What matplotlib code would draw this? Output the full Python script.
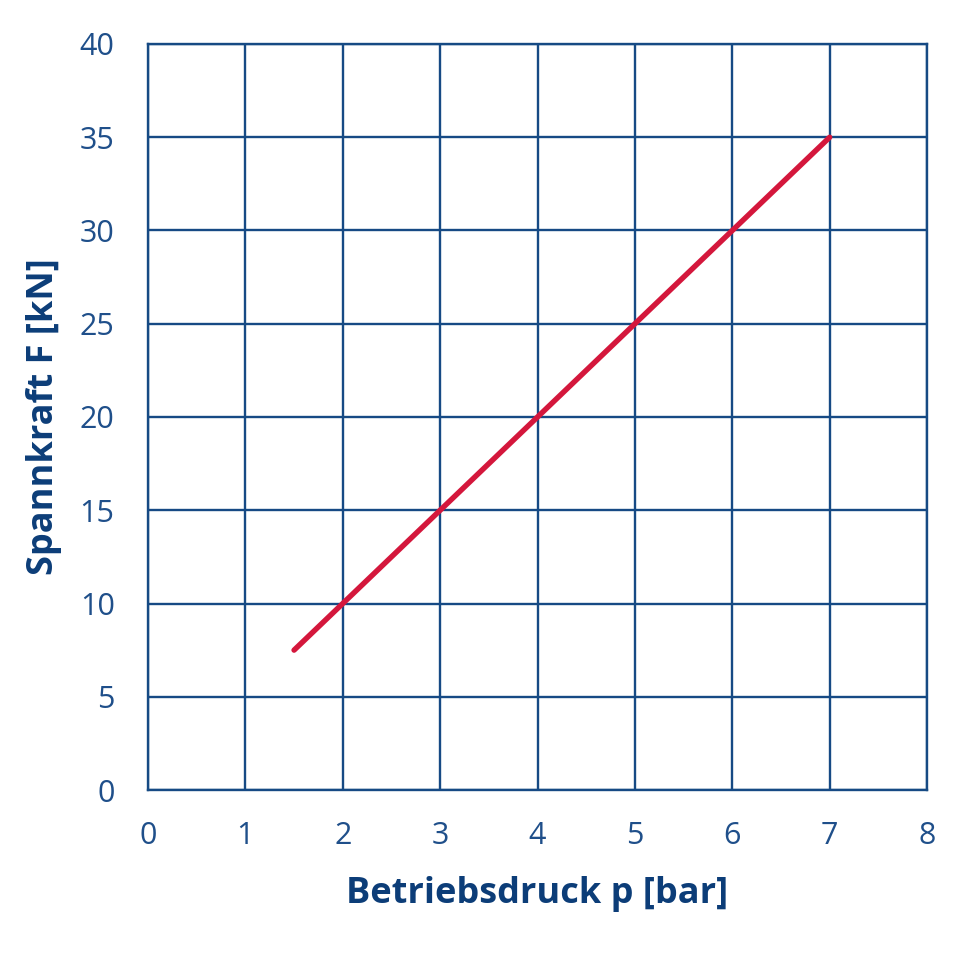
import numpy as np
import matplotlib.pyplot as plt

# values
druck = [1.5, 7.0]      # Betriebsdruck p [bar]
kraft = [7.5, 35.0]     # Spannkraft F [kN]
x_ticks = [0, 1, 2, 3, 4, 5, 6, 7, 8]
y_ticks = [0, 5, 10, 15, 20, 25, 30, 35, 40]

grid_col = "#164a84"
text_col = "#1f4f8a"
label_col = "#0c3d78"
line_col = "#d4173c"

plt.rcParams['font.family'] = ['Open Sans', 'DejaVu Sans']

fig = plt.figure(figsize=(9.8, 9.71), dpi=100)
ax = fig.add_axes([0.151, 0.1864, 0.795, 0.7683])

ax.plot(druck, kraft, color=line_col, lw=3.9, solid_capstyle='round', zorder=3)

ax.set_xlim(0, 8)
ax.set_ylim(0, 40)
ax.set_xticks(x_ticks)
ax.set_yticks(y_ticks)
ax.grid(True, color=grid_col, lw=1.7)
for s in ax.spines.values():
    s.set_color(grid_col)
    s.set_linewidth(1.7)
ax.tick_params(length=0, labelsize=22, labelcolor=text_col)
ax.tick_params(axis='y', pad=24)
ax.tick_params(axis='x', pad=22)

ax.set_xlabel("Betriebsdruck p [bar]", fontsize=26, fontweight='bold', color=label_col, labelpad=18)
ax.set_ylabel("Spannkraft F [kN]", fontsize=26, fontweight='bold', color=label_col, labelpad=13)

fig.savefig("out.png", dpi=100, facecolor='white')
